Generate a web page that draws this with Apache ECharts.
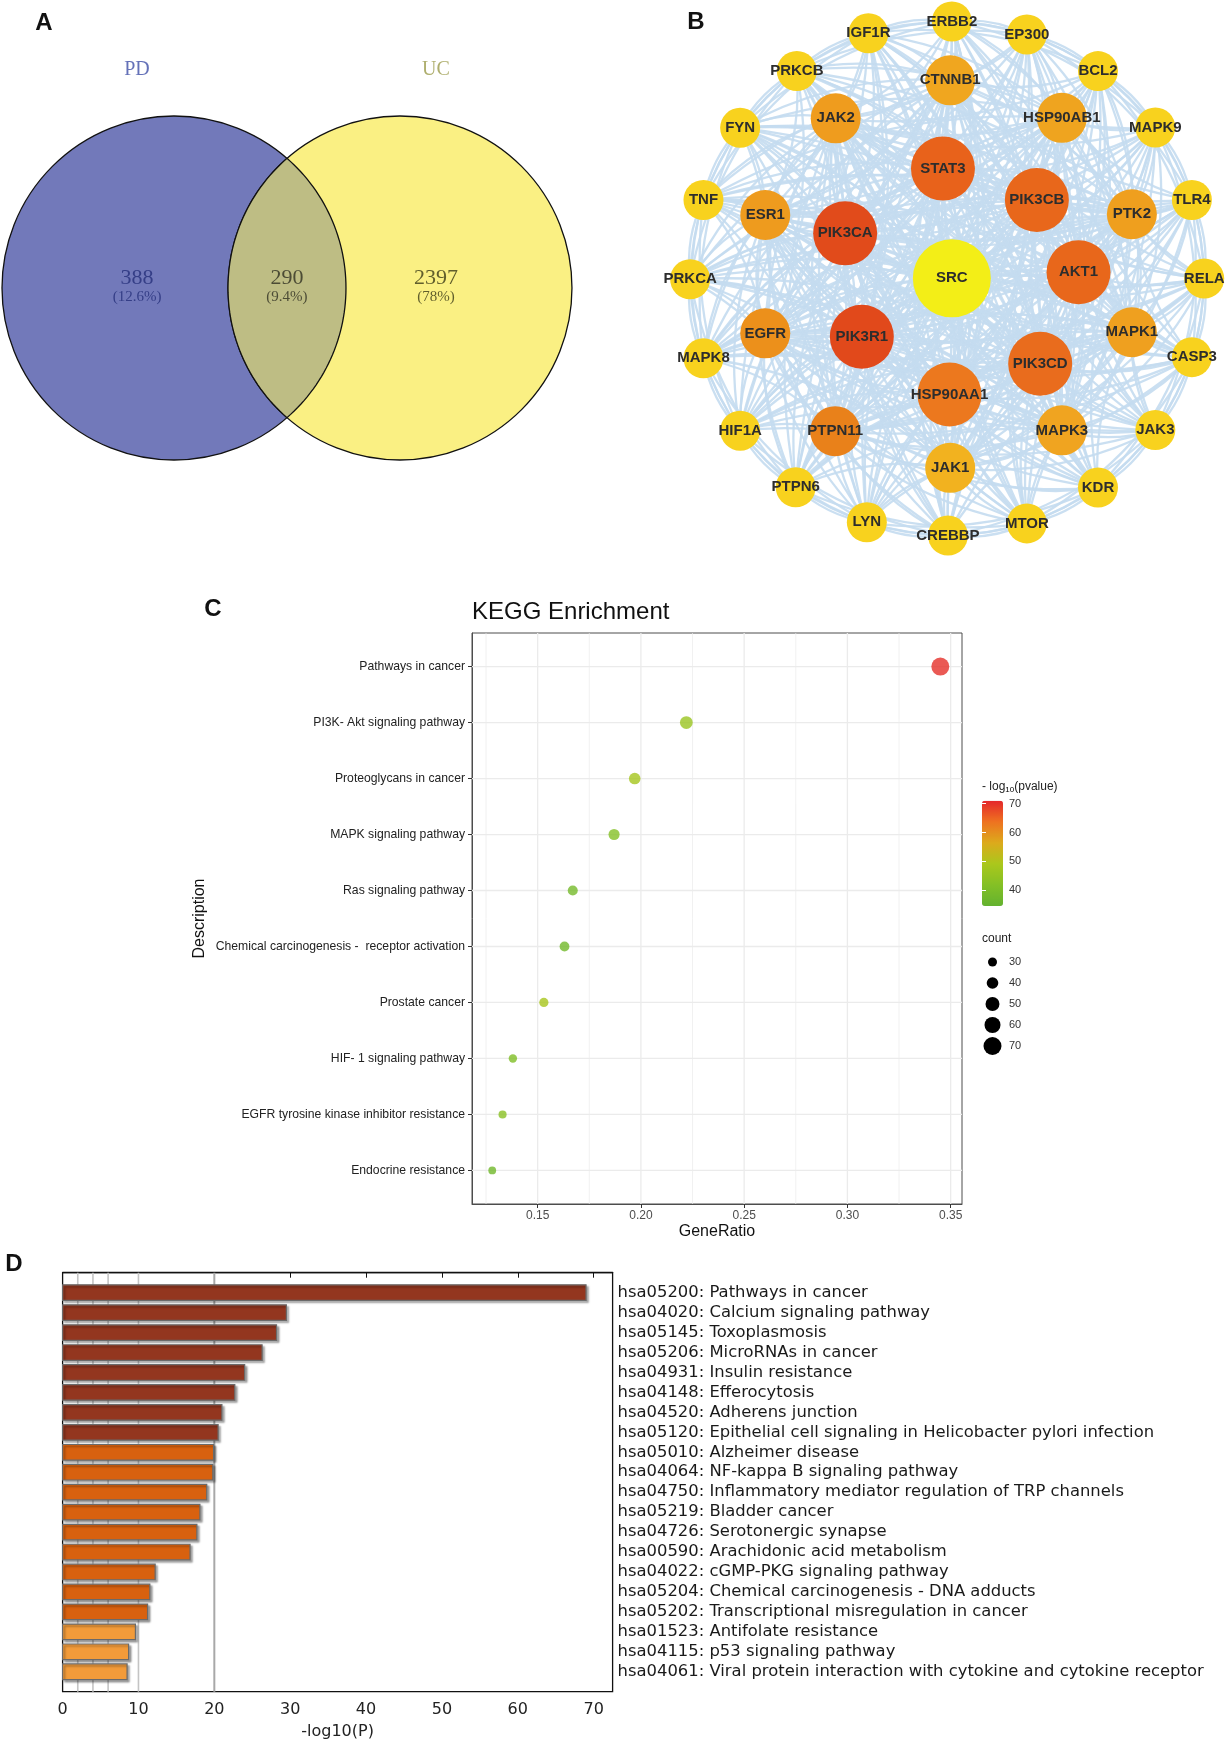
<!DOCTYPE html>
<html><head><meta charset="utf-8">
<script src="https://cdn.jsdelivr.net/npm/echarts@6/dist/echarts.min.js"></script>
<style>html,body{margin:0;padding:0;background:#fff}#main{width:1228px;height:1742px}</style>
</head><body><div id="main"></div>
<script>
// ---------------- DATA ----------------
// Panel A: Venn
const vennSets = ['PD', 'UC'];
const vennCounts = [388, 290, 2397];
const vennPercents = ['12.6%', '9.4%', '78%'];

// Panel B: PPI network nodes
const centerNodes = ['SRC'];
const innerNodes = ['STAT3', 'PIK3CB', 'AKT1', 'PIK3CD', 'HSP90AA1', 'PIK3R1', 'PIK3CA'];
const middleNodes = ['CTNNB1', 'HSP90AB1', 'PTK2', 'MAPK1', 'MAPK3', 'JAK1', 'PTPN11', 'EGFR', 'ESR1', 'JAK2'];
const outerNodes = ['ERBB2', 'EP300', 'BCL2', 'MAPK9', 'TLR4', 'RELA', 'CASP3', 'JAK3', 'KDR', 'MTOR',
  'CREBBP', 'LYN', 'PTPN6', 'HIF1A', 'MAPK8', 'PRKCA', 'TNF', 'FYN', 'PRKCB', 'IGF1R'];

// Panel C: KEGG dot plot
const keggTerms = ['Pathways in cancer', 'PI3K- Akt signaling pathway', 'Proteoglycans in cancer',
  'MAPK signaling pathway', 'Ras signaling pathway', 'Chemical carcinogenesis -  receptor activation',
  'Prostate cancer', 'HIF- 1 signaling pathway', 'EGFR tyrosine kinase inhibitor resistance', 'Endocrine resistance'];
const keggGeneRatio = [0.345, 0.222, 0.197, 0.187, 0.167, 0.163, 0.153, 0.138, 0.133, 0.128];
const keggCount = [70, 45, 40, 38, 34, 33, 31, 28, 27, 26];
const keggLogP = [70, 46, 48, 42, 38.5, 38, 48.5, 41, 43, 37.5];
const keggXTicks = [0.15, 0.20, 0.25, 0.30, 0.35];
const keggGridX = [0.125, 0.15, 0.175, 0.20, 0.225, 0.25, 0.275, 0.30, 0.325, 0.35];
const pvalueTicks = [40, 50, 60, 70];
const countTicks = [30, 40, 50, 60, 70];

// Panel D: Metascape bar chart
const metaTerms = ['hsa05200: Pathways in cancer', 'hsa04020: Calcium signaling pathway', 'hsa05145: Toxoplasmosis',
  'hsa05206: MicroRNAs in cancer', 'hsa04931: Insulin resistance', 'hsa04148: Efferocytosis',
  'hsa04520: Adherens junction', 'hsa05120: Epithelial cell signaling in Helicobacter pylori infection',
  'hsa05010: Alzheimer disease', 'hsa04064: NF-kappa B signaling pathway',
  'hsa04750: Inflammatory mediator regulation of TRP channels', 'hsa05219: Bladder cancer',
  'hsa04726: Serotonergic synapse', 'hsa00590: Arachidonic acid metabolism', 'hsa04022: cGMP-PKG signaling pathway',
  'hsa05204: Chemical carcinogenesis - DNA adducts', 'hsa05202: Transcriptional misregulation in cancer',
  'hsa01523: Antifolate resistance', 'hsa04115: p53 signaling pathway',
  'hsa04061: Viral protein interaction with cytokine and cytokine receptor'];
const metaLogP = [69.0, 29.5, 28.2, 26.3, 24.0, 22.7, 21.0, 20.5, 19.9, 19.8, 19.0, 18.1, 17.7, 16.8, 12.2, 11.5, 11.2, 9.6, 8.7, 8.5];
const metaXTicks = [0, 10, 20, 30, 40, 50, 60, 70];
const metaGridValues = [2, 4, 6, 10, 20];

// ---------------- LAYOUT / STYLE ----------------
const vennLayout = { centers: [[0, 0], [1.314, 0]], radius: 1,
  regionPos: [[-0.215, 0], [0.657, 0], [1.523, 0]], setLabelPos: [[-0.215, 1.267], [1.523, 1.267]] };
const vennFill = ['#7279BA', '#FAF083'];
const vennLens = '#BEBD84';
const vennSetColor = ['#3D4DA6', '#9A9A48'];
const nodeLayout = {
  SRC: [856.5, 250.5],
  STAT3: [848.5, 151.7], PIK3CB: [933, 180], AKT1: [970.5, 245], PIK3CD: [936, 327.3], HSP90AA1: [854.4, 355], PIK3R1: [775.5, 303], PIK3CA: [760.5, 210],
  CTNNB1: [855, 72.3], HSP90AB1: [955.5, 106], PTK2: [1018.5, 192.8], MAPK1: [1018.5, 299], MAPK3: [955.5, 387.3], JAK1: [855, 421], PTPN11: [751.5, 388], EGFR: [688.6, 300], ESR1: [688.6, 193.5], JAK2: [752, 106.5],
  ERBB2: [856.5, 19.3], EP300: [924, 31], BCL2: [988, 64], MAPK9: [1039.6, 114.7], TLR4: [1072.5, 180], RELA: [1083.6, 250.7], CASP3: [1072.5, 321.4], JAK3: [1039.6, 387], KDR: [988, 438.8], MTOR: [924, 471], CREBBP: [853, 482], LYN: [780, 470], PTPN6: [716, 438.5], HIF1A: [666, 387.6], MAPK8: [633, 322.4], PRKCA: [621, 251.3], TNF: [633, 180], FYN: [666, 115], PRKCB: [717, 63.9], IGF1R: [781.4, 30]
};
const nodeColor = { SRC: '#F3EE17', STAT3: '#E8621B', PIK3CB: '#E8671B', AKT1: '#E8671B', PIK3CD: '#E96C1D', HSP90AA1: '#EC781E', PIK3R1: '#E1491B', PIK3CA: '#E14B1B',
  CTNNB1: '#F0A61F', HSP90AB1: '#EFA41F', PTK2: '#EF9F1E', MAPK1: '#EFA01F', MAPK3: '#F0A420', JAK1: '#F2B21F', PTPN11: '#E9811A', EGFR: '#EC901B', ESR1: '#EE9B1E', JAK2: '#EF9C1E' };
const outerColor = '#F8D21E';
const ringSize = { center: 78, inner: 64, middle: 50, outer: 40 };

// ---------------- BUILD ----------------
const allNodes = [];
centerNodes.forEach(n => allNodes.push({ name: n, ring: 'center' }));
innerNodes.forEach(n => allNodes.push({ name: n, ring: 'inner' }));
middleNodes.forEach(n => allNodes.push({ name: n, ring: 'middle' }));
outerNodes.forEach(n => allNodes.push({ name: n, ring: 'outer' }));
const graphNodes = allNodes.map(n => ({
  name: n.name, value: nodeLayout[n.name], symbolSize: ringSize[n.ring],
  itemStyle: { color: nodeColor[n.name] || outerColor }
}));
const coreNodes = centerNodes.concat(innerNodes, middleNodes);
const links = [];
for (let i = 0; i < coreNodes.length; i++)
  for (let j = i + 1; j < coreNodes.length; j++) links.push({ source: coreNodes[i], target: coreNodes[j] });
outerNodes.forEach(o => coreNodes.forEach(c => links.push({ source: o, target: c })));
outerNodes.forEach((o, k) => {
  links.push({ source: o, target: outerNodes[(k + 1) % outerNodes.length] });
  links.push({ source: o, target: outerNodes[(k + 2) % outerNodes.length] });
  links.push({ source: o, target: outerNodes[(k + 3) % outerNodes.length] });
});

const sizeOf = c => 3.11 * Math.sqrt(c) - 8.05;
const FONT_C = 'Liberation Sans';
const FONT_D = 'DejaVu Sans';

const chart = echarts.init(document.getElementById('main'));
const option = {
  backgroundColor: '#fff',
  animation: false,
  grid: [
    { left: 2, top: 116, width: 571, height: 344 },
    { left: 666.8, top: 0, width: 561.2, height: 555.6 },
    { left: 472, top: 633, width: 490, height: 571, show: true, borderColor: '#4d4d4d', borderWidth: 1, backgroundColor: 'transparent' },
    { left: 982, top: 800.7, width: 21, height: 105.3 },
    { left: 982, top: 951.5, width: 21, height: 105 },
    { left: 62.6, top: 1272.7, width: 550, height: 419, show: true, borderColor: '#111', borderWidth: 1.3, backgroundColor: 'transparent' }
  ],
  xAxis: [
    { gridIndex: 0, type: 'value', min: -1, max: 2.32, show: false },
    { gridIndex: 1, type: 'value', min: 600, max: 1105, show: false },
    { gridIndex: 2, type: 'value', min: 0.1182, max: 0.3555,
      axisLine: { show: true, lineStyle: { color: '#4d4d4d' } },
      axisTick: { show: true, length: 4, customValues: keggXTicks, lineStyle: { color: '#333' } },
      axisLabel: { customValues: keggXTicks, formatter: v => v.toFixed(2), fontSize: 12, color: '#4d4d4d', margin: 6, fontFamily: FONT_C },
      splitLine: { show: false },
      name: 'GeneRatio', nameLocation: 'middle', nameGap: 20,
      nameTextStyle: { fontSize: 16, color: '#111', fontFamily: FONT_C } },
    { gridIndex: 3, type: 'value', min: 0, max: 1, show: false },
    { gridIndex: 4, type: 'value', min: 0, max: 1, show: false },
    { gridIndex: 5, type: 'value', min: 0, max: 72.5,
      axisLine: { show: true, lineStyle: { color: '#111', width: 1.3 } },
      axisTick: { show: true, length: 5, customValues: metaXTicks, lineStyle: { color: '#111' } },
      axisLabel: { customValues: metaXTicks, fontSize: 16, color: '#222', margin: 10, fontFamily: FONT_D },
      splitLine: { show: false },
      name: '-log10(P)', nameLocation: 'middle', nameGap: 32,
      nameTextStyle: { fontSize: 16, color: '#222', fontFamily: FONT_D } }
  ],
  yAxis: [
    { gridIndex: 0, type: 'value', min: -1, max: 1, show: false },
    { gridIndex: 1, type: 'value', min: 0, max: 500, inverse: true, show: false },
    { gridIndex: 2, type: 'value', min: 0.4, max: 10.6, inverse: true,
      axisLine: { show: true, lineStyle: { color: '#4d4d4d' } },
      axisTick: { show: true, length: 4, customValues: [1, 2, 3, 4, 5, 6, 7, 8, 9, 10], lineStyle: { color: '#333' } },
      axisLabel: { customValues: [1, 2, 3, 4, 5, 6, 7, 8, 9, 10], formatter: v => keggTerms[Math.round(v) - 1], fontSize: 12.2, color: '#222', margin: 7, fontFamily: FONT_C },
      splitLine: { show: false },
      name: 'Description', nameLocation: 'middle', nameRotate: 90, nameGap: 264,
      nameTextStyle: { fontSize: 16, color: '#111', fontFamily: FONT_C } },
    { gridIndex: 3, type: 'value', min: 34.6, max: 71, position: 'right', z: 10,
      axisLine: { show: false },
      axisTick: { show: true, inside: true, length: 4, customValues: pvalueTicks, lineStyle: { color: '#fff', width: 1 } },
      axisLabel: { customValues: pvalueTicks, fontSize: 11, color: '#333', margin: 6, fontFamily: FONT_C },
      splitLine: { show: false } },
    { gridIndex: 3, type: 'value', min: 34.6, max: 71, position: 'left', z: 10,
      axisLine: { show: false },
      axisTick: { show: true, inside: true, length: 4, customValues: pvalueTicks, lineStyle: { color: '#fff', width: 1 } },
      axisLabel: { show: false }, splitLine: { show: false } },
    { gridIndex: 4, type: 'category', data: countTicks.map(String), inverse: true, position: 'right',
      axisLine: { show: false }, axisTick: { show: false },
      axisLabel: { fontSize: 11, color: '#333', margin: 6, fontFamily: FONT_C } },
    { gridIndex: 5, type: 'value', min: 0, max: 21, inverse: true, position: 'right',
      axisLine: { show: false }, axisTick: { show: false },
      axisLabel: { customValues: metaTerms.map((t, i) => i + 1), formatter: v => metaTerms[Math.round(v) - 1],
        fontSize: 16.4, color: '#1a1a1a', margin: 5, align: 'left', fontFamily: FONT_D },
      splitLine: { show: false } }
  ],
  visualMap: [
    { type: 'continuous', seriesIndex: 6, dimension: 2, min: 34.6, max: 71, calculable: false,
      left: 982, top: 800.7, itemWidth: 21, itemHeight: 105.3, padding: 0, orient: 'vertical',
      inRange: { color: ['#63B22F', '#84C025', '#ABC71C', '#DCAA1C', '#EE7220', '#E4262B'] } },
    { type: 'piecewise', show: false, seriesIndex: 9, dimension: 0,
      pieces: [{ gt: 20, color: '#93361F' }, { gte: 10, lte: 20, color: '#D8610F' }, { lt: 10, color: '#F29B3A' }] }
  ],
  graphic: [
    { type: 'text', x: 44, y: 23, style: { text: 'A', font: 'bold 24px "Liberation Sans"', fill: '#111', textAlign: 'center', textVerticalAlign: 'middle' } },
    { type: 'text', x: 696, y: 22, style: { text: 'B', font: 'bold 24px "Liberation Sans"', fill: '#111', textAlign: 'center', textVerticalAlign: 'middle' } },
    { type: 'text', x: 213, y: 609, style: { text: 'C', font: 'bold 24px "Liberation Sans"', fill: '#111', textAlign: 'center', textVerticalAlign: 'middle' } },
    { type: 'text', x: 14, y: 1264, style: { text: 'D', font: 'bold 24px "Liberation Sans"', fill: '#111', textAlign: 'center', textVerticalAlign: 'middle' } },
    { type: 'text', x: 472, y: 612, style: { text: 'KEGG Enrichment', font: '24px "Liberation Sans"', fill: '#111', textAlign: 'left', textVerticalAlign: 'middle' } },
    { type: 'text', x: 982, y: 787, style: { text: '{a|- log}{s|10}{a|(pvalue)}', textAlign: 'left', textVerticalAlign: 'middle',
      rich: { a: { fontSize: 12, fontFamily: FONT_C, fill: '#222', color: '#222' }, s: { fontSize: 8, fontFamily: FONT_C, color: '#222', padding: [6, 0, 0, 0] } } } },
    { type: 'text', x: 982, y: 939, style: { text: 'count', font: '12px "Liberation Sans"', fill: '#222', textAlign: 'left', textVerticalAlign: 'middle' } }
  ],
  series: [
    // 0 venn circles
    { type: 'custom', xAxisIndex: 0, yAxisIndex: 0, silent: true, clip: false,
      data: vennSets.map((s, i) => [vennLayout.centers[i][0], vennLayout.centers[i][1], vennLayout.radius, i]),
      renderItem: (params, api) => {
        const c = api.coord([api.value(0), api.value(1)]);
        const r = api.size([api.value(2), 0])[0];
        return { type: 'circle', shape: { cx: c[0], cy: c[1], r: r },
          style: { fill: vennFill[api.value(3)], stroke: '#111', lineWidth: 1.3 } };
      } },
    // 1 venn lens
    { type: 'custom', xAxisIndex: 0, yAxisIndex: 0, silent: true, z: 3, clip: false,
      data: [[vennLayout.centers[0][0], vennLayout.centers[1][0], vennLayout.centers[0][1], vennLayout.radius]],
      renderItem: (params, api) => {
        const c1 = api.coord([api.value(0), api.value(2)]);
        const c2 = api.coord([api.value(1), api.value(2)]);
        const r = api.size([api.value(3), 0])[0];
        const d = c2[0] - c1[0];
        const a = d / 2;
        const h = Math.sqrt(r * r - a * a);
        const th = Math.atan2(h, a);
        const pts = [];
        const N = 60;
        for (let k = 0; k <= N; k++) { const t = -th + 2 * th * k / N; pts.push([c1[0] + r * Math.cos(t), c1[1] + r * Math.sin(t)]); }
        for (let k = 0; k <= N; k++) { const t = Math.PI - th + 2 * th * k / N; pts.push([c2[0] + r * Math.cos(t), c2[1] + r * Math.sin(t)]); }
        return { type: 'polygon', shape: { points: pts }, style: { fill: vennLens, stroke: '#111', lineWidth: 1.3 } };
      } },
    // 2 venn region labels
    { type: 'scatter', xAxisIndex: 0, yAxisIndex: 0, symbolSize: 0, silent: true, z: 5, clip: false,
      data: vennCounts.map((c, i) => vennLayout.regionPos[i]),
      label: { show: true, position: 'inside',
        formatter: p => `{n${p.dataIndex}|${vennCounts[p.dataIndex]}}\n{p${p.dataIndex}|(${vennPercents[p.dataIndex]})}`,
        rich: {
          n0: { fontSize: 22, lineHeight: 19, fontFamily: 'Liberation Serif', color: '#26307A' },
          p0: { fontSize: 15, lineHeight: 19, fontFamily: 'Liberation Serif', color: '#26307A' },
          n1: { fontSize: 22, lineHeight: 19, fontFamily: 'Liberation Serif', color: '#2f2f22' },
          p1: { fontSize: 15, lineHeight: 19, fontFamily: 'Liberation Serif', color: '#2f2f22' },
          n2: { fontSize: 22, lineHeight: 19, fontFamily: 'Liberation Serif', color: '#3a3a16' },
          p2: { fontSize: 15, lineHeight: 19, fontFamily: 'Liberation Serif', color: '#3a3a16' }
        } } },
    // 3 venn set labels
    { type: 'scatter', xAxisIndex: 0, yAxisIndex: 0, symbolSize: 0, silent: true, clip: false, z: 5,
      data: vennSets.map((s, i) => ({ value: vennLayout.setLabelPos[i], label: { color: vennSetColor[i] } })),
      label: { show: true, position: 'inside', fontSize: 20, fontFamily: 'Liberation Serif',
        formatter: p => vennSets[p.dataIndex] } },
    // 4 network
    { type: 'graph', coordinateSystem: 'cartesian2d', xAxisIndex: 1, yAxisIndex: 1, silent: true,
      data: graphNodes, links: links, symbol: 'circle',
      lineStyle: { color: '#C4DBEF', width: 2.3, opacity: 0.9, curveness: 0.15 },
      label: { show: true, position: 'inside', fontSize: 15, fontWeight: 'bold', color: '#2d2d2d', fontFamily: FONT_C },
      emphasis: { disabled: true } },
    // 5 kegg grid lines
    { type: 'custom', xAxisIndex: 2, yAxisIndex: 2, silent: true, z: 1,
      data: keggGridX.map(v => [0, v]).concat(keggTerms.map((t, i) => [1, i + 1])),
      renderItem: (params, api) => {
        const kind = api.value(0), v = api.value(1);
        let p1, p2, w;
        if (kind === 0) { p1 = api.coord([v, 0.4]); p2 = api.coord([v, 10.6]); w = keggXTicks.some(t => Math.abs(t - v) < 1e-6) ? 1.3 : 0.7; }
        else { p1 = api.coord([0.1182, v]); p2 = api.coord([0.3555, v]); w = 1.3; }
        return { type: 'line', shape: { x1: p1[0], y1: p1[1], x2: p2[0], y2: p2[1] }, style: { stroke: '#EBEBEB', lineWidth: w } };
      } },
    // 6 kegg dots
    { type: 'scatter', xAxisIndex: 2, yAxisIndex: 2, z: 3, silent: true,
      data: keggTerms.map((t, i) => [keggGeneRatio[i], i + 1, keggLogP[i], keggCount[i]]),
      symbolSize: v => sizeOf(v[3]) },
    // 7 kegg count legend
    { type: 'scatter', xAxisIndex: 4, yAxisIndex: 5, silent: true,
      data: countTicks.map(c => [0.5, String(c), c]),
      symbolSize: v => sizeOf(v[2]), itemStyle: { color: '#000', opacity: 1 } },
    // 8 meta grid lines
    { type: 'custom', xAxisIndex: 5, yAxisIndex: 6, silent: true, z: 1,
      data: metaGridValues.map(v => [v]),
      renderItem: (params, api) => {
        const v = api.value(0);
        const p1 = api.coord([v, 0]), p2 = api.coord([v, 21]);
        return { type: 'line', shape: { x1: p1[0], y1: p1[1], x2: p2[0], y2: p2[1] },
          style: { stroke: v === 20 ? '#A8A8A8' : '#C4C4C4', lineWidth: v === 20 ? 2 : 1.6 } };
      } },
    // 9 meta bars
    { type: 'custom', xAxisIndex: 5, yAxisIndex: 6, silent: true, z: 3,
      data: metaLogP.map((v, i) => [v, i + 1]),
      renderItem: (params, api) => {
        const v = api.value(0), r = api.value(1);
        const p0 = api.coord([0, r]), p1 = api.coord([v, r]);
        const h = api.size([0, 1])[1] * 0.78;
        return { type: 'rect', shape: { x: p0[0], y: p0[1] - h / 2, width: p1[0] - p0[0], height: h },
          style: { fill: api.visual('color'), stroke: '#6a6a6a', lineWidth: 1.2,
            shadowColor: 'rgba(0,0,0,0.35)', shadowBlur: 2, shadowOffsetX: 2, shadowOffsetY: 2 } };
      } }
  ]
};
chart.setOption(option);
</script>
</body></html>
